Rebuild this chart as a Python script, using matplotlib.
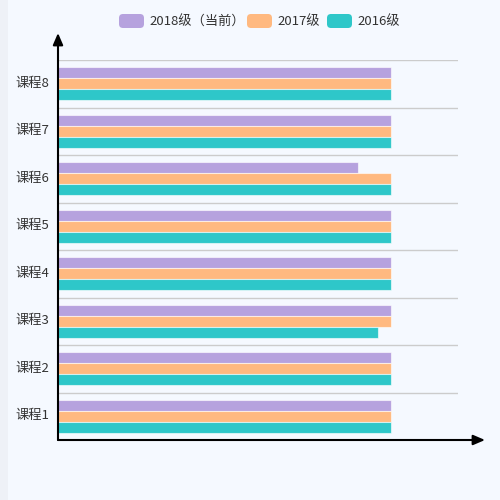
import matplotlib
matplotlib.use('Agg')
import matplotlib.pyplot as plt
from matplotlib.patches import FancyBboxPatch, Rectangle
from matplotlib.transforms import ScaledTranslation
import numpy as np

plt.rcParams['font.family'] = ['Noto Sans CJK SC', 'DejaVu Sans']

courses = ['课程1', '课程2', '课程3', '课程4', '课程5', '课程6', '课程7', '课程8']
series_names = ['2018级（当前）', '2017级', '2016级']
s2018 = [100, 100, 100, 100, 100, 90, 100, 100]
s2017 = [100, 100, 100, 100, 100, 100, 100, 100]
s2016 = [100, 100, 96, 100, 100, 100, 100, 100]
colors = ['#b6a2de', '#ffb980', '#2ec7c9']
xmax = 120

bg = '#f5f9ff'
fig = plt.figure(figsize=(5, 5), dpi=100, facecolor=bg)
# slightly darker strip on the left edge
fig.patches.append(Rectangle((0, 0), 8 / 500, 1, transform=fig.transFigure,
                             facecolor='#eef1f7', edgecolor='none', zorder=0))

ax = fig.add_axes([58 / 500, 60 / 500, 400 / 500, 380 / 500])
ax.set_facecolor('none')

y = np.arange(len(courses))
h = 0.232
for vals, off, c in zip([s2018, s2017, s2016], [h, 0, -h], colors):
    ax.barh(y + off, vals, height=h, color=c, edgecolor=(1, 1, 1, 0.6),
            linewidth=0.8, zorder=3)

ax.set_xlim(0, xmax)
ax.set_ylim(-0.5, len(courses) - 0.5)
for b in np.arange(0.5, len(courses), 1):
    ax.axhline(b, color='#cccccc', lw=1, zorder=1)

ax.set_yticks(y)
ax.set_yticklabels(courses, fontsize=9.5, color='#333333')
ax.tick_params(axis='y', length=0, pad=6)
up = ScaledTranslation(0, 2 / 100, fig.dpi_scale_trans)
for lab in ax.get_yticklabels():
    lab.set_transform(lab.get_transform() + up)
ax.set_xticks([])
for s in ax.spines.values():
    s.set_visible(False)

# axes with arrows
ax.annotate('', xy=(0, 1 + 27 / 380), xytext=(0, 0), xycoords='axes fraction',
            arrowprops=dict(arrowstyle='-|>,head_length=0.7,head_width=0.3',
                            color='black', lw=1.5, shrinkA=0, shrinkB=0))
ax.annotate('', xy=(1 + 27 / 400, 0), xytext=(0, 0), xycoords='axes fraction',
            arrowprops=dict(arrowstyle='-|>,head_length=0.7,head_width=0.3',
                            color='black', lw=1.5, shrinkA=0, shrinkB=0))

# legend drawn by hand with rounded swatches
lx = [119, 247, 327]
ly = 500 - 21
for name, c, x0 in zip(series_names, colors, lx):
    fig.patches.append(FancyBboxPatch((x0 / 500, (ly - 7) / 500), 25 / 500, 14 / 500,
                                      boxstyle='round,pad=0,rounding_size=0.008',
                                      transform=fig.transFigure, facecolor=c,
                                      edgecolor='none'))
    fig.text((x0 + 30) / 500, (ly - 1) / 500, name, fontsize=9.5, color='#333333',
             va='center', ha='left')

fig.savefig('out.png', dpi=100, facecolor=bg)
